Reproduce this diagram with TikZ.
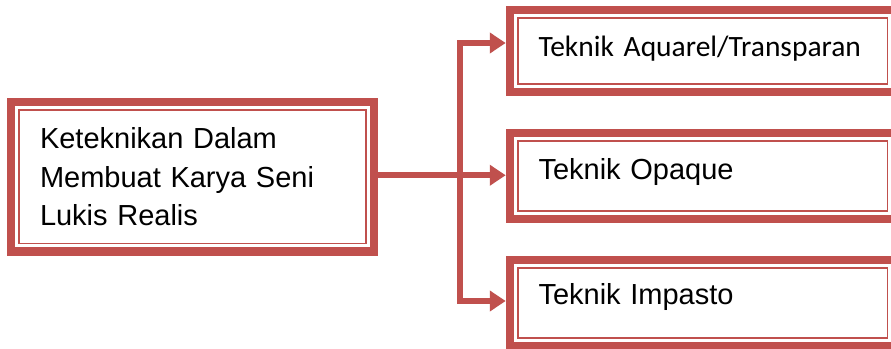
\documentclass[tikz,border=0pt]{standalone}
\usepackage{fontspec}
\setmainfont{Liberation Sans}
\newfontfamily\calibri{Carlito}
\usetikzlibrary{arrows.meta}
\definecolor{accred}{HTML}{C0504D}
\begin{document}
\begin{tikzpicture}[x=1pt,y=-1pt,
  box/.style={draw=accred, line width=8.5pt, rectangle, inner ysep=0pt,
    align=left, font=\fontsize{29}{38.5}\selectfont},
  rbox/.style={box, minimum width=385.5pt, text width=328.5pt, inner xsep=28.5pt},
  thinline/.style={draw=accred, line width=1.8pt},
  conn/.style={draw=accred, line width=6pt},
  tipa/.tip={Triangle[length=16pt, width=20pt]}]
\useasboundingbox (0,0) rectangle (891,348);
\clip (0,0) rectangle (891,348);
\fill[white] (0,0) rectangle (891,348);

\node[box, minimum width=363pt, minimum height=149.5pt, text width=305pt, inner xsep=29pt]
  (L) at (192.5,176.75) {Keteknikan Dalam\\Membuat Karya Seni\\Lukis Realis};
\node[rbox, minimum height=82pt, text height=20pt, text depth=8.6pt]
  (A) at (702.75,51) {\calibri\fontsize{29.5}{38.5}\selectfont Teknik Aquarel/Transparan};
\node[rbox, minimum height=86pt, text height=21pt, text depth=14.4pt]
  (B) at (702.75,176) {Teknik Opaque};
\node[rbox, minimum height=86pt, text height=21pt, text depth=17.5pt]
  (C) at (702.75,303) {Teknik Impasto};

\foreach \n in {L,A,B,C}
  \draw[thinline] ([shift={(12.25,12.25)}]\n.north west) rectangle ([shift={(-12.25,-12.25)}]\n.south east);

\coordinate (trunk) at (460,0);
\coordinate (a1) at ([yshift=8pt]A.west);
\coordinate (c1) at ([yshift=2pt]C.west);
\coordinate (l1) at ([yshift=1.5pt]L.east);

\draw[conn, tipa-tipa] (a1) -- (a1 -| trunk) -- (c1 -| trunk) -- (c1);
\draw[conn, -tipa] (l1) -- (l1 -| B.west);
\end{tikzpicture}
\end{document}
